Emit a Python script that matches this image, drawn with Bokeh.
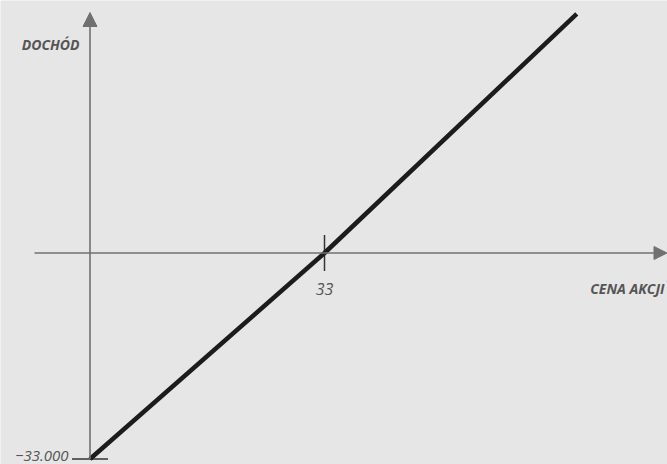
import numpy as np
from bokeh.plotting import figure
from bokeh.models import Arrow, NormalHead, Label, Range1d
from bokeh.embed import file_html
from bokeh.resources import INLINE

# ---- data ----
price = [0, 33, 68.5]            # cena akcji
income = [-33000, 0, 38300]      # dochód
x_tick_values = [33]
x_tick_labels = ["33"]
y_tick_values = [-33000]
y_tick_labels = ["\u221233.000"]
x_title = "CENA AKCJI"
y_title = "DOCHÓD"

BG = "#e6e6e6"
AX = "#707070"
TXT = "#555555"
W, H = 667, 464

# calibration of the reference picture (667x464 px)
REF_W, REF_H = 667, 464
X0_PX, X33_PX = 89.5, 324.0
Y0_PX, YM_PX = 252.5, 458.5
kx = (X33_PX - X0_PX) / 33.0
ky = (YM_PX - Y0_PX) / 33000.0
sx, sy = W / REF_W, H / REF_H


def fx(px):
    return (px - X0_PX) / kx


def fy(py):
    return (Y0_PX - py) / ky


p = figure(width=W, height=H,
           x_range=Range1d(fx(0), fx(REF_W)), y_range=Range1d(fy(REF_H), fy(0)),
           x_axis_type=None, y_axis_type=None,
           output_backend="svg", toolbar_location=None, min_border=0)
p.grid.visible = False
p.outline_line_color = None
p.background_fill_color = BG
p.border_fill_color = BG

# axes as arrows
p.add_layout(Arrow(x_start=fx(34), y_start=0, x_end=fx(666.5), y_end=0,
                   line_color=AX, line_width=1.6,
                   end=NormalHead(size=13, fill_color=AX, line_color=AX, line_width=1)))
p.add_layout(Arrow(x_start=0, y_start=y_tick_values[0], x_end=0, y_end=fy(12),
                   line_color=AX, line_width=1.6,
                   end=NormalHead(size=14, fill_color=AX, line_color=AX, line_width=1)))

# ticks
p.scatter(x=x_tick_values, y=[0] * len(x_tick_values), marker="dash", size=36,
          angle=np.pi / 2, line_color="#333333", line_width=1.5)
p.scatter(x=[0] * len(y_tick_values), y=y_tick_values, marker="dash", size=36,
          line_color="#333333", line_width=1.5)

# payoff line
p.line(price, income, line_color="#1c1c1c", line_width=4.5)

# tick labels
for v, t in zip(x_tick_values, x_tick_labels):
    p.add_layout(Label(x=v, y=0, text=t, y_offset=-(288 - Y0_PX) * sy,
                       text_align="center", text_baseline="middle",
                       text_font="Open Sans", text_font_style="italic",
                       text_font_size="16px", text_color=TXT))
for v, t in zip(y_tick_values, y_tick_labels):
    p.add_layout(Label(x=0, y=v, text=t, x_offset=-(X0_PX - 68) * sx, y_offset=3,
                       text_align="right", text_baseline="middle",
                       text_font="Open Sans", text_font_style="italic",
                       text_font_size="15px", text_color=TXT))

# axis titles
p.add_layout(Label(x=fx(664), y=fy(288), text=x_title,
                   text_align="right", text_baseline="middle",
                   text_font="Open Sans", text_font_style="bold italic",
                   text_font_size="14px", text_color=TXT))
p.add_layout(Label(x=fx(79), y=fy(44), text=y_title,
                   text_align="right", text_baseline="middle",
                   text_font="Open Sans", text_font_style="bold italic",
                   text_font_size="14px", text_color=TXT))

open("out.html", "w").write(file_html(p, INLINE))
